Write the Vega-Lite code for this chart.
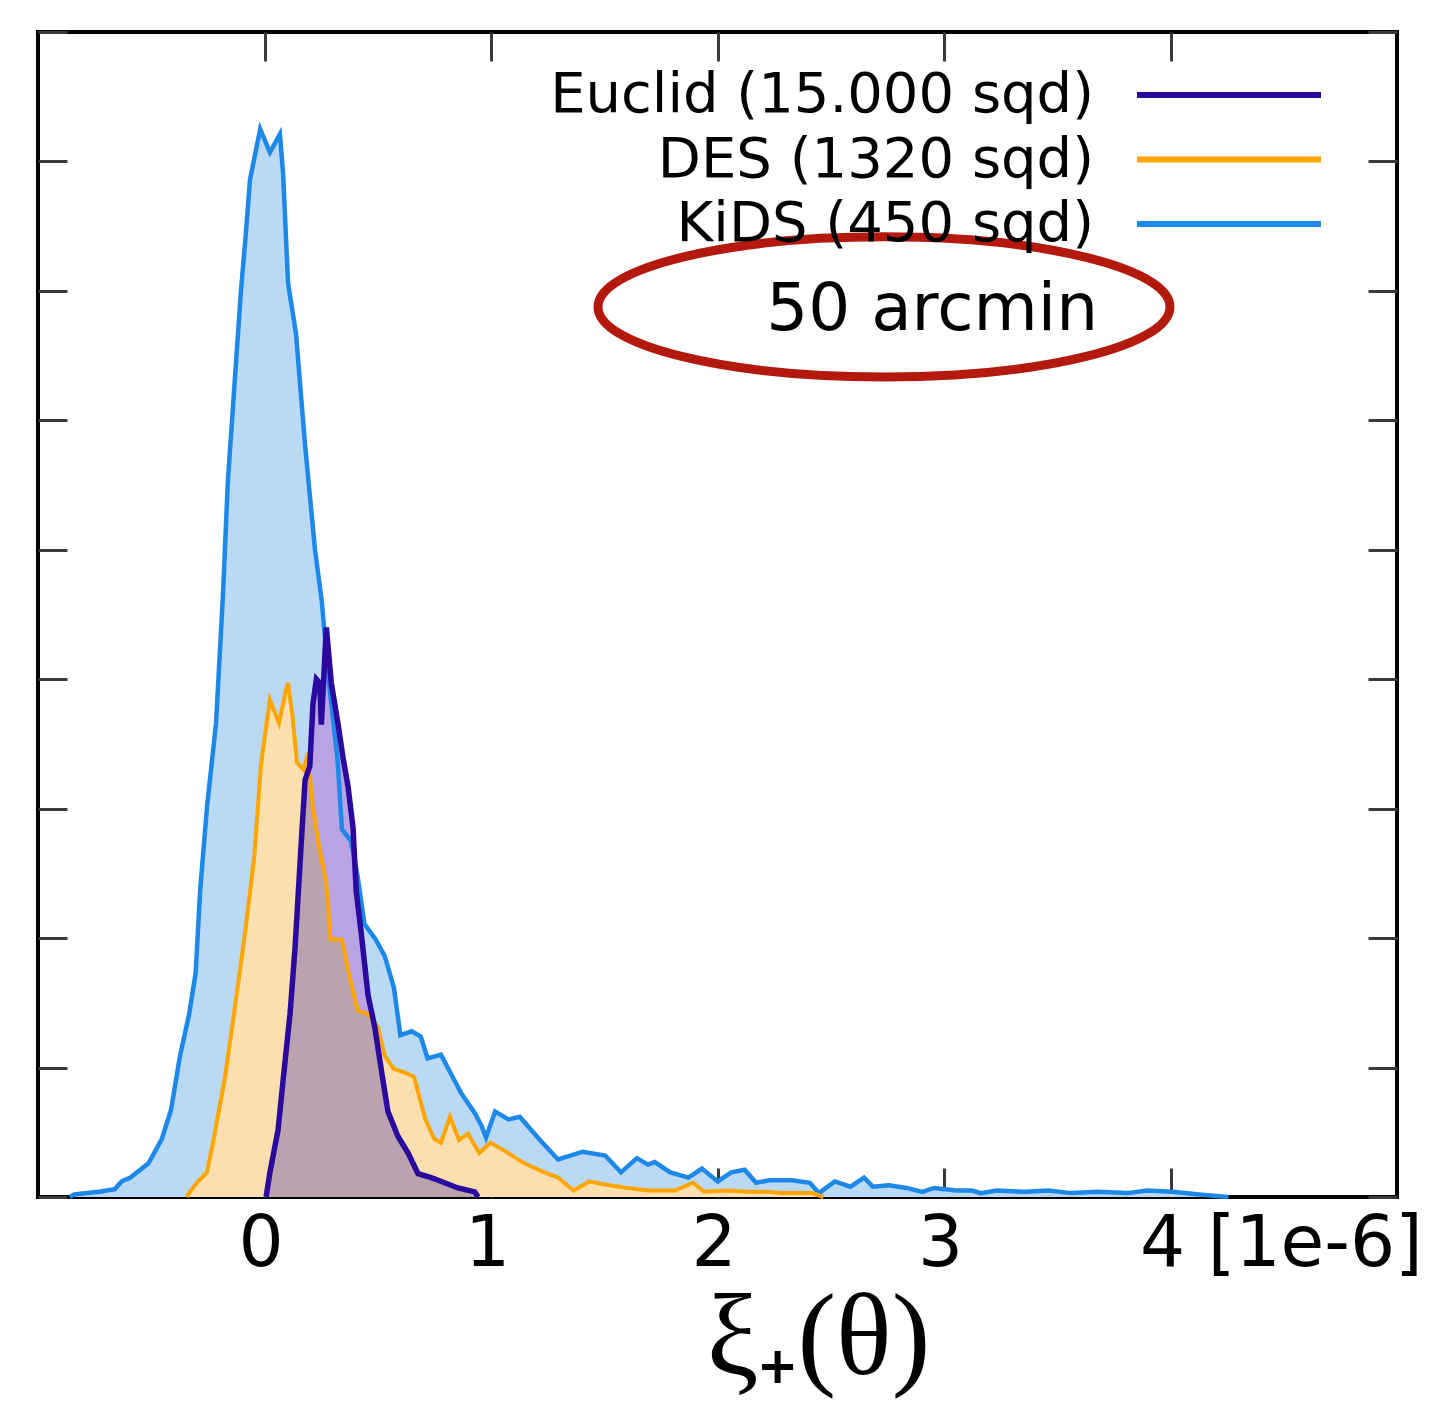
{
  "$schema": "https://vega.github.io/schema/vega-lite/v6.json",
  "width": 1359,
  "height": 1165,
  "autosize": {"type": "none"},
  "padding": {"left": 38, "top": 32, "right": 38, "bottom": 230},
  "background": "white",
  "config": {
    "view": {"stroke": "black", "strokeWidth": 4},
    "axis": {"grid": false, "domain": false, "tickColor": "#3a3a3a", "tickWidth": 3, "tickSize": -29, "labelFont": "DejaVu Sans", "labelColor": "black", "titleColor": "black"}
  },
  "datasets": {
    "curves": [
      {"survey": "KiDS", "x": -0.86, "y": 0},
      {"survey": "KiDS", "x": -0.84, "y": 0.02},
      {"survey": "KiDS", "x": -0.731, "y": 0.04},
      {"survey": "KiDS", "x": -0.661, "y": 0.06},
      {"survey": "KiDS", "x": -0.631, "y": 0.12},
      {"survey": "KiDS", "x": -0.592, "y": 0.15},
      {"survey": "KiDS", "x": -0.512, "y": 0.26},
      {"survey": "KiDS", "x": -0.453, "y": 0.45},
      {"survey": "KiDS", "x": -0.413, "y": 0.67},
      {"survey": "KiDS", "x": -0.373, "y": 1.09},
      {"survey": "KiDS", "x": -0.333, "y": 1.41},
      {"survey": "KiDS", "x": -0.304, "y": 1.73},
      {"survey": "KiDS", "x": -0.284, "y": 2.37},
      {"survey": "KiDS", "x": -0.254, "y": 3.01},
      {"survey": "KiDS", "x": -0.214, "y": 3.66},
      {"survey": "KiDS", "x": -0.184, "y": 4.63},
      {"survey": "KiDS", "x": -0.162, "y": 5.52},
      {"survey": "KiDS", "x": -0.139, "y": 6.11},
      {"survey": "KiDS", "x": -0.104, "y": 7.0},
      {"survey": "KiDS", "x": -0.082, "y": 7.45},
      {"survey": "KiDS", "x": -0.064, "y": 7.86},
      {"survey": "KiDS", "x": -0.019, "y": 8.25},
      {"survey": "KiDS", "x": 0.024, "y": 8.07},
      {"survey": "KiDS", "x": 0.068, "y": 8.21},
      {"survey": "KiDS", "x": 0.082, "y": 7.91},
      {"survey": "KiDS", "x": 0.104, "y": 7.06},
      {"survey": "KiDS", "x": 0.139, "y": 6.67},
      {"survey": "KiDS", "x": 0.179, "y": 5.81},
      {"survey": "KiDS", "x": 0.223, "y": 5.0},
      {"survey": "KiDS", "x": 0.253, "y": 4.6},
      {"survey": "KiDS", "x": 0.283, "y": 4.0},
      {"survey": "KiDS", "x": 0.322, "y": 3.39},
      {"survey": "KiDS", "x": 0.342, "y": 2.84},
      {"survey": "KiDS", "x": 0.382, "y": 2.75},
      {"survey": "KiDS", "x": 0.412, "y": 2.47},
      {"survey": "KiDS", "x": 0.441, "y": 2.11},
      {"survey": "KiDS", "x": 0.491, "y": 1.99},
      {"survey": "KiDS", "x": 0.531, "y": 1.86},
      {"survey": "KiDS", "x": 0.571, "y": 1.62},
      {"survey": "KiDS", "x": 0.6, "y": 1.25},
      {"survey": "KiDS", "x": 0.65, "y": 1.28},
      {"survey": "KiDS", "x": 0.69, "y": 1.24},
      {"survey": "KiDS", "x": 0.72, "y": 1.07},
      {"survey": "KiDS", "x": 0.779, "y": 1.1},
      {"survey": "KiDS", "x": 0.869, "y": 0.8},
      {"survey": "KiDS", "x": 0.928, "y": 0.65},
      {"survey": "KiDS", "x": 0.958, "y": 0.55},
      {"survey": "KiDS", "x": 0.978, "y": 0.46},
      {"survey": "KiDS", "x": 1.018, "y": 0.66},
      {"survey": "KiDS", "x": 1.077, "y": 0.6},
      {"survey": "KiDS", "x": 1.127, "y": 0.62},
      {"survey": "KiDS", "x": 1.216, "y": 0.44},
      {"survey": "KiDS", "x": 1.296, "y": 0.29},
      {"survey": "KiDS", "x": 1.405, "y": 0.35},
      {"survey": "KiDS", "x": 1.504, "y": 0.32},
      {"survey": "KiDS", "x": 1.574, "y": 0.19},
      {"survey": "KiDS", "x": 1.644, "y": 0.3},
      {"survey": "KiDS", "x": 1.693, "y": 0.25},
      {"survey": "KiDS", "x": 1.723, "y": 0.27},
      {"survey": "KiDS", "x": 1.792, "y": 0.19},
      {"survey": "KiDS", "x": 1.872, "y": 0.15},
      {"survey": "KiDS", "x": 1.931, "y": 0.22},
      {"survey": "KiDS", "x": 2.001, "y": 0.12},
      {"survey": "KiDS", "x": 2.061, "y": 0.19},
      {"survey": "KiDS", "x": 2.12, "y": 0.21},
      {"survey": "KiDS", "x": 2.17, "y": 0.11},
      {"survey": "KiDS", "x": 2.23, "y": 0.13},
      {"survey": "KiDS", "x": 2.329, "y": 0.13},
      {"survey": "KiDS", "x": 2.408, "y": 0.11},
      {"survey": "KiDS", "x": 2.448, "y": 0.03},
      {"survey": "KiDS", "x": 2.518, "y": 0.12},
      {"survey": "KiDS", "x": 2.587, "y": 0.08},
      {"survey": "KiDS", "x": 2.647, "y": 0.15},
      {"survey": "KiDS", "x": 2.686, "y": 0.08},
      {"survey": "KiDS", "x": 2.756, "y": 0.09},
      {"survey": "KiDS", "x": 2.835, "y": 0.07},
      {"survey": "KiDS", "x": 2.905, "y": 0.04},
      {"survey": "KiDS", "x": 2.955, "y": 0.07},
      {"survey": "KiDS", "x": 3.054, "y": 0.05},
      {"survey": "KiDS", "x": 3.124, "y": 0.05},
      {"survey": "KiDS", "x": 3.163, "y": 0.03},
      {"survey": "KiDS", "x": 3.233, "y": 0.05},
      {"survey": "KiDS", "x": 3.362, "y": 0.04},
      {"survey": "KiDS", "x": 3.461, "y": 0.05},
      {"survey": "KiDS", "x": 3.561, "y": 0.03},
      {"survey": "KiDS", "x": 3.68, "y": 0.04},
      {"survey": "KiDS", "x": 3.809, "y": 0.03},
      {"survey": "KiDS", "x": 3.898, "y": 0.05},
      {"survey": "KiDS", "x": 4.008, "y": 0.04},
      {"survey": "KiDS", "x": 4.127, "y": 0.02},
      {"survey": "KiDS", "x": 4.256, "y": 0},
      {"survey": "DES", "x": -0.343, "y": 0},
      {"survey": "DES", "x": -0.333, "y": 0.03},
      {"survey": "DES", "x": -0.294, "y": 0.12},
      {"survey": "DES", "x": -0.254, "y": 0.19},
      {"survey": "DES", "x": -0.224, "y": 0.45},
      {"survey": "DES", "x": -0.174, "y": 0.93},
      {"survey": "DES", "x": -0.135, "y": 1.41},
      {"survey": "DES", "x": -0.085, "y": 2.05},
      {"survey": "DES", "x": -0.045, "y": 2.63},
      {"survey": "DES", "x": -0.016, "y": 3.33},
      {"survey": "DES", "x": 0.004, "y": 3.59},
      {"survey": "DES", "x": 0.024, "y": 3.84},
      {"survey": "DES", "x": 0.044, "y": 3.75},
      {"survey": "DES", "x": 0.064, "y": 3.66},
      {"survey": "DES", "x": 0.094, "y": 3.91},
      {"survey": "DES", "x": 0.104, "y": 3.97},
      {"survey": "DES", "x": 0.124, "y": 3.71},
      {"survey": "DES", "x": 0.143, "y": 3.36},
      {"survey": "DES", "x": 0.173, "y": 3.3},
      {"survey": "DES", "x": 0.193, "y": 3.43},
      {"survey": "DES", "x": 0.213, "y": 3.01},
      {"survey": "DES", "x": 0.243, "y": 2.69},
      {"survey": "DES", "x": 0.273, "y": 2.43},
      {"survey": "DES", "x": 0.292, "y": 1.99},
      {"survey": "DES", "x": 0.342, "y": 1.99},
      {"survey": "DES", "x": 0.372, "y": 1.73},
      {"survey": "DES", "x": 0.412, "y": 1.44},
      {"survey": "DES", "x": 0.461, "y": 1.41},
      {"survey": "DES", "x": 0.501, "y": 1.31},
      {"survey": "DES", "x": 0.531, "y": 1.09},
      {"survey": "DES", "x": 0.571, "y": 0.99},
      {"survey": "DES", "x": 0.62, "y": 0.96},
      {"survey": "DES", "x": 0.66, "y": 0.93},
      {"survey": "DES", "x": 0.71, "y": 0.6},
      {"survey": "DES", "x": 0.749, "y": 0.45},
      {"survey": "DES", "x": 0.779, "y": 0.42},
      {"survey": "DES", "x": 0.819, "y": 0.62},
      {"survey": "DES", "x": 0.859, "y": 0.44},
      {"survey": "DES", "x": 0.898, "y": 0.49},
      {"survey": "DES", "x": 0.948, "y": 0.34},
      {"survey": "DES", "x": 0.998, "y": 0.42},
      {"survey": "DES", "x": 1.057, "y": 0.36},
      {"survey": "DES", "x": 1.147, "y": 0.26},
      {"survey": "DES", "x": 1.236, "y": 0.19},
      {"survey": "DES", "x": 1.296, "y": 0.15},
      {"survey": "DES", "x": 1.365, "y": 0.05},
      {"survey": "DES", "x": 1.435, "y": 0.12},
      {"survey": "DES", "x": 1.524, "y": 0.09},
      {"survey": "DES", "x": 1.604, "y": 0.07},
      {"survey": "DES", "x": 1.693, "y": 0.05},
      {"survey": "DES", "x": 1.812, "y": 0.05},
      {"survey": "DES", "x": 1.892, "y": 0.11},
      {"survey": "DES", "x": 1.941, "y": 0.04},
      {"survey": "DES", "x": 2.041, "y": 0.05},
      {"survey": "DES", "x": 2.14, "y": 0.04},
      {"survey": "DES", "x": 2.23, "y": 0.04},
      {"survey": "DES", "x": 2.279, "y": 0.03},
      {"survey": "DES", "x": 2.418, "y": 0.03},
      {"survey": "DES", "x": 2.468, "y": 0},
      {"survey": "Euclid", "x": 0.007, "y": 0},
      {"survey": "Euclid", "x": 0.024, "y": 0.19},
      {"survey": "Euclid", "x": 0.06, "y": 0.52},
      {"survey": "Euclid", "x": 0.082, "y": 0.9},
      {"survey": "Euclid", "x": 0.113, "y": 1.42},
      {"survey": "Euclid", "x": 0.135, "y": 1.93},
      {"survey": "Euclid", "x": 0.161, "y": 2.7},
      {"survey": "Euclid", "x": 0.179, "y": 3.22},
      {"survey": "Euclid", "x": 0.2, "y": 3.33},
      {"survey": "Euclid", "x": 0.214, "y": 3.81},
      {"survey": "Euclid", "x": 0.229, "y": 4.0},
      {"survey": "Euclid", "x": 0.244, "y": 3.97},
      {"survey": "Euclid", "x": 0.251, "y": 3.65},
      {"survey": "Euclid", "x": 0.273, "y": 4.4},
      {"survey": "Euclid", "x": 0.295, "y": 3.97},
      {"survey": "Euclid", "x": 0.325, "y": 3.65},
      {"survey": "Euclid", "x": 0.347, "y": 3.39},
      {"survey": "Euclid", "x": 0.369, "y": 3.17},
      {"survey": "Euclid", "x": 0.391, "y": 2.85},
      {"survey": "Euclid", "x": 0.405, "y": 2.36},
      {"survey": "Euclid", "x": 0.427, "y": 2.04},
      {"survey": "Euclid", "x": 0.457, "y": 1.56},
      {"survey": "Euclid", "x": 0.487, "y": 1.31},
      {"survey": "Euclid", "x": 0.516, "y": 0.98},
      {"survey": "Euclid", "x": 0.545, "y": 0.66},
      {"survey": "Euclid", "x": 0.589, "y": 0.47},
      {"survey": "Euclid", "x": 0.634, "y": 0.34},
      {"survey": "Euclid", "x": 0.678, "y": 0.18},
      {"survey": "Euclid", "x": 0.736, "y": 0.15},
      {"survey": "Euclid", "x": 0.781, "y": 0.12},
      {"survey": "Euclid", "x": 0.854, "y": 0.07},
      {"survey": "Euclid", "x": 0.928, "y": 0.04},
      {"survey": "Euclid", "x": 0.943, "y": 0}
    ]
  },
  "data": {"name": "curves"},
  "layer": [
    {
      "transform": [{"filter": "datum.survey == 'KiDS'"}],
      "mark": {"type": "area", "fill": "#b9d9f5", "opacity": 1},
      "encoding": {
        "x": {
          "field": "x", "type": "quantitative",
          "scale": {"domain": [-1, 5], "nice": false, "zero": false},
          "axis": {
            "orient": "bottom", "values": [0, 1, 2, 3, 4],
            "labelExpr": "datum.value == 4 ? '4 [1e-6]' : datum.label",
            "labelFontSize": 71, "labelFlush": false, "labelOverlap": false, "labelLimit": 0,
            "labelAlign": {"condition": {"test": "datum.value == 4", "value": "left"}, "value": "center"},
            "labelOffset": {"condition": {"test": "datum.value == 4", "value": -31}, "value": -4},
            "labelPadding": 41, "labelBaseline": "top",
            "title": "ξ₊(θ)", "titleFont": "Liberation Serif", "titleFontSize": 116, "titleFontWeight": "normal",
            "titleX": 780, "titleY": 176, "titleAlign": "center", "titleBaseline": "alphabetic"
          }
        },
        "y": {
          "field": "y", "type": "quantitative",
          "scale": {"domain": [0, 9], "nice": false},
          "axis": {"orient": "left", "values": [0, 1, 2, 3, 4, 5, 6, 7, 8, 9], "labels": false, "title": null}
        }
      }
    },
    {
      "transform": [{"filter": "datum.survey == 'DES'"}],
      "mark": {"type": "area", "fill": "#fbdfae", "opacity": 1},
      "encoding": {
        "x": {"field": "x", "type": "quantitative", "axis": null},
        "y": {"field": "y", "type": "quantitative", "axis": null}
      }
    },
    {
      "transform": [{"filter": "datum.survey == 'Euclid'"}],
      "mark": {"type": "area", "fill": "#baa3e2", "opacity": 1, "blend": "darken"},
      "encoding": {
        "x": {"field": "x", "type": "quantitative", "axis": null},
        "y": {"field": "y", "type": "quantitative", "axis": null}
      }
    },
    {
      "transform": [{"filter": "datum.survey == 'KiDS'"}],
      "mark": {"type": "line", "strokeWidth": 4.5},
      "encoding": {
        "x": {"field": "x", "type": "quantitative", "axis": null},
        "y": {"field": "y", "type": "quantitative", "axis": null},
        "stroke": {
          "field": "survey", "type": "nominal",
          "scale": {"domain": ["Euclid", "DES", "KiDS"], "range": ["#2a0a9e", "#ffa500", "#1e88e8"]},
          "legend": {
            "orient": "none", "legendX": 1163, "legendY": 35, "title": null, "padding": 0,
            "symbolType": "M -4 0 L 4 0", "symbolStrokeWidth": 6, "symbolSize": 2116, "symbolOpacity": 1,
            "labelFont": "DejaVu Sans", "labelFontSize": 56, "labelColor": "black",
            "labelAlign": "right", "labelOffset": -163, "labelLimit": 0, "rowPadding": 8.5,
            "labelExpr": "datum.label == 'Euclid' ? 'Euclid (15.000 sqd)' : datum.label == 'DES' ? 'DES (1320 sqd)' : 'KiDS (450 sqd)'"
          }
        }
      }
    },
    {
      "transform": [{"filter": "datum.survey == 'DES'"}],
      "mark": {"type": "line", "strokeWidth": 4},
      "encoding": {
        "x": {"field": "x", "type": "quantitative", "axis": null},
        "y": {"field": "y", "type": "quantitative", "axis": null},
        "stroke": {"field": "survey", "type": "nominal", "legend": null}
      }
    },
    {
      "transform": [{"filter": "datum.survey == 'Euclid'"}],
      "mark": {"type": "line", "strokeWidth": 5.5},
      "encoding": {
        "x": {"field": "x", "type": "quantitative", "axis": null},
        "y": {"field": "y", "type": "quantitative", "axis": null},
        "stroke": {"field": "survey", "type": "nominal", "legend": null}
      }
    },
    {
      "data": {"values": [{"label": "50 arcmin", "x": 3.68, "y": 6.698}]},
      "mark": {"type": "text", "align": "right", "baseline": "alphabetic", "font": "DejaVu Sans", "fontSize": 66, "color": "black"},
      "encoding": {
        "text": {"field": "label"},
        "x": {"field": "x", "type": "quantitative", "axis": {"orient": "top", "values": [0, 1, 2, 3, 4], "labels": false, "title": null}},
        "y": {"field": "y", "type": "quantitative", "axis": {"orient": "right", "values": [0, 1, 2, 3, 4, 5, 6, 7, 8, 9], "labels": false, "title": null}}
      }
    },
    {
      "data": {"values": [{"x": 2.735, "y": 6.876}]},
      "mark": {
        "type": "point", "filled": false, "opacity": 1,
        "shape": "M -1 0 A 1 0.245 0 1 1 1 0 A 1 0.245 0 1 1 -1 0 Z",
        "size": 327184, "stroke": "#b3190d", "strokeWidth": 9
      },
      "encoding": {
        "x": {"field": "x", "type": "quantitative", "axis": null},
        "y": {"field": "y", "type": "quantitative", "axis": null}
      }
    }
  ],
  "resolve": {"axis": {"x": "independent", "y": "independent"}}
}
